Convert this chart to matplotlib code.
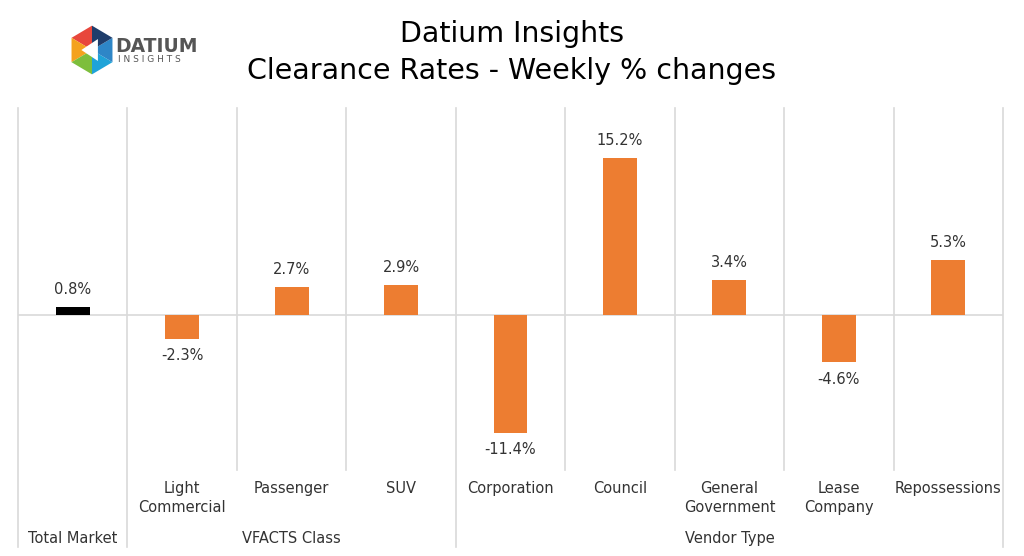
import matplotlib.pyplot as plt
import numpy as np
from matplotlib.patches import Polygon

# values
categories = ['Total Market', 'Light\nCommercial', 'Passenger', 'SUV', 'Corporation',
              'Council', 'General\nGovernment', 'Lease\nCompany', 'Repossessions']
changes = [0.8, -2.3, 2.7, 2.9, -11.4, 15.2, 3.4, -4.6, 5.3]
groups = ['Total Market', 'VFACTS Class', 'Vendor Type']
group_sizes = [1, 3, 5]

plt.rcParams['font.family'] = ['DejaVu Sans']

fig = plt.figure(figsize=(10.24, 5.56), dpi=100)
ax = fig.add_axes([18 / 1024, 86 / 556, 985 / 1024, 362 / 556])

x = np.arange(len(categories))
colors = ['#000000'] + ['#ED7D31'] * (len(categories) - 1)
ax.bar(x, changes, width=0.31, color=colors, zorder=3)

ax.set_xlim(-0.5, len(categories) - 0.5)
ax.set_ylim(-15, 20)
ax.axhline(0, color='#D9D9D9', lw=1.2, zorder=1)
for s in ax.spines.values():
    s.set_visible(False)
ax.set_xticks([])
ax.set_yticks([])

# value labels
for xi, v in zip(x, changes):
    if v >= 0:
        ax.annotate(f'{v:.1f}%', (xi, v), xytext=(0, 7), textcoords='offset points',
                    ha='center', va='bottom', fontsize=10.5, color='#333333')
    else:
        ax.annotate(f'{v:.1f}%', (xi, v), xytext=(0, -7), textcoords='offset points',
                    ha='center', va='top', fontsize=10.5, color='#333333')

# separators: group boundaries run longer
trans = ax.get_xaxis_transform()
bounds = np.cumsum([0] + group_sizes) - 0.5
for b in np.arange(-0.5, len(categories)):
    y0 = -0.213 if b in bounds else 0
    ax.plot([b, b], [y0, 1], color='#D9D9D9', lw=1.2, transform=trans,
            clip_on=False, zorder=1)

# category labels (Total Market sits on the group row)
for xi, c in zip(x, categories):
    if c == 'Total Market':
        continue
    ax.text(xi, -0.03, c, transform=trans, ha='center', va='top',
            fontsize=10.5, color='#333333', linespacing=1.35)

start = 0
for g, n in zip(groups, group_sizes):
    mid = start + (n - 1) / 2
    ax.text(mid, -0.19, g, transform=trans, ha='center', va='center',
            fontsize=10.5, color='#333333')
    start += n

fig.text(0.5, 0.938, 'Datium Insights', ha='center', va='center', fontsize=20.5, color='#000000')
fig.text(0.5, 0.872, 'Clearance Rates - Weekly % changes', ha='center', va='center',
         fontsize=20.5, color='#000000')

# rough logo
lax = fig.add_axes([66 / 1024, 556 / 556 - 78 / 556, 52 / 1024, 56 / 556])
lax.set_xlim(-1.1, 1.1)
lax.set_ylim(-1.15, 1.15)
lax.axis('off')
ang = np.deg2rad(90 + 60 * np.arange(6))
pts = np.c_[np.cos(ang), np.sin(ang)]
tri_cols = ['#E8473C', '#F4A21E', '#7DBE3C', '#1FA3D8', '#2E86C7', '#1F3D6B']
for i in range(6):
    lax.add_patch(Polygon([[0, 0], pts[i], pts[(i + 1) % 6]], closed=True,
                          color=tri_cols[i], lw=0))
lax.add_patch(Polygon([[-0.45, 0], [0.25, 0.45], [0.25, -0.45]], closed=True,
                      color='white', lw=0))
fig.text(115 / 1024, 1 - 46 / 556, 'DATIUM', ha='left', va='center', fontsize=13.5,
         color='#555555', fontweight='bold')
fig.text(118 / 1024, 1 - 60 / 556, 'I N S I G H T S', ha='left', va='center', fontsize=6.5,
         color='#555555')

fig.savefig('out.png', dpi=100)
